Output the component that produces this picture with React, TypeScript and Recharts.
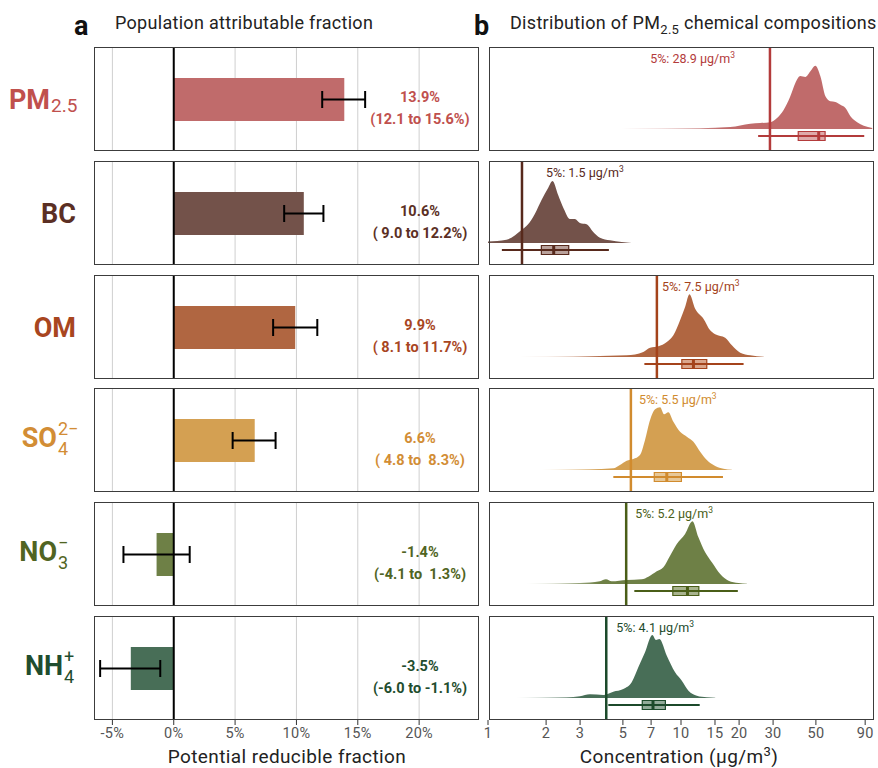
import React from 'react';
import {
  ComposedChart,
  BarChart,
  Bar,
  ErrorBar,
  XAxis,
  YAxis,
  ReferenceLine,
  ReferenceArea,
  Area,
  CartesianGrid,
} from 'recharts';

// ---------------- data ----------------
const componentKeys = ['PM2.5', 'BC', 'OM', 'SO4', 'NO3', 'NH4'];
const labelMain = ['PM', 'BC', 'OM', 'SO', 'NO', 'NH'];
const labelSub = ['2.5', '', '', '4', '3', '4'];
const labelSup = ['', '', '', '2−', '−', '+'];

const pafValue = [13.9, 10.6, 9.9, 6.6, -1.4, -3.5];
const pafLower = [12.1, 9.0, 8.1, 4.8, -4.1, -6.0];
const pafUpper = [15.6, 12.2, 11.7, 8.3, 1.3, -1.1];
const pafTicks = [-5, 0, 5, 10, 15, 20];

const concTicks = [1, 2, 3, 5, 7, 10, 15, 20, 30, 50, 90];
const p5Conc = [28.9, 1.5, 7.5, 5.5, 5.2, 4.1];
const whiskerLow = [25.1, 1.18, 6.46, 4.46, 5.73, 4.2];
const quartile1 = [40.5, 1.89, 10.1, 7.27, 9.07, 6.3];
const medianConc = [51.7, 2.19, 11.6, 8.44, 10.8, 7.16];
const quartile3 = [55.8, 2.62, 13.6, 10.05, 12.37, 8.3];
const whiskerHigh = [89, 4.23, 21.1, 16.5, 19.7, 12.5];

// density (relative) over concentration (µg/m3)
const pm25Conc = [4.94, 12.6, 18.0, 22.85, 25.75, 29.0, 31.44, 34.02, 36.85, 39.13, 41.54, 44.1, 46.82, 49.7, 52.76, 56.01, 59.45, 63.11, 67.0, 71.12, 75.5, 81.81, 88.51, 97.88];
const pm25Dens = [0.4, 0.8, 2, 5.3, 6, 6.7, 11, 19, 32.7, 46, 53, 52, 57.7, 63.3, 52.7, 32.7, 27.7, 27, 24.3, 21, 12.7, 6.7, 3.3, 1];
const bcConc = [1.0, 1.246, 1.491, 1.613, 1.748, 1.894, 2.049, 2.16, 2.309, 2.472, 2.657, 2.818, 2.992, 3.243, 3.51, 3.802, 4.284, 4.927, 5.553];
const bcDens = [1.5, 3.3, 13, 18.7, 29, 43, 55, 62, 48, 34, 24, 24, 20, 18.7, 11, 5.3, 2.7, 1, 0];
const omConc = [1.461, 2.763, 5.231, 6.378, 6.913, 7.632, 8.441, 9.13, 9.89, 10.5, 11.06, 11.84, 13.07, 14.16, 15.04, 16.94, 18.35, 20.27, 22.85, 26.79];
const omDens = [0.3, 0.5, 1.7, 5, 9.3, 10.7, 15, 21.7, 36.7, 50, 62.7, 48.3, 38.3, 26.7, 22.7, 19.3, 11.7, 4.3, 1.7, 0.3];
const so4Conc = [1.894, 3.373, 4.457, 4.826, 5.231, 5.661, 6.132, 6.511, 6.913, 7.338, 7.79, 8.172, 8.602, 9.13, 9.89, 10.72, 11.6, 12.57, 13.61, 15.04, 16.6, 18.35];
const so4Dens = [0.3, 0.7, 1.7, 5, 9.3, 11, 15, 30, 50, 60.7, 62.7, 55.7, 57.7, 48.3, 38.3, 33.3, 28.3, 18.3, 10, 4, 1.3, 0.3];
const no3Conc = [1.583, 2.994, 3.802, 4.085, 4.372, 5.231, 6.258, 6.772, 7.486, 8.103, 8.779, 9.51, 10.5, 11.46, 12.31, 13.34, 14.45, 15.96, 17.63, 19.86, 21.96];
const no3Dens = [0.3, 1, 2.7, 4.7, 2.7, 4, 4.7, 7.3, 12.7, 16.7, 28.3, 40, 50, 62.7, 46.7, 31.7, 21.7, 10, 3.3, 1, 0.2];
const nh4Conc = [1.404, 2.554, 2.994, 3.373, 3.955, 4.457, 5.023, 5.553, 6.009, 6.511, 7.103, 7.424, 7.725, 8.441, 9.32, 10.1, 10.93, 12.08, 13.61, 15.04];
const nh4Dens = [0.3, 0.7, 1.7, 3.7, 3, 6.3, 9, 15.7, 30.7, 45.7, 63, 58, 59, 42.3, 25.7, 17.3, 7.3, 2.3, 0.7, 0.2];

const densConc = [pm25Conc, bcConc, omConc, so4Conc, no3Conc, nh4Conc];
const densVal = [pm25Dens, bcDens, omDens, so4Dens, no3Dens, nh4Dens];

// ---------------- styles / layout ----------------
const barColors = ['#c06b6b', '#73524a', '#b06641', '#d4a052', '#6e8046', '#486e57'];
const lineColors = ['#b33b3b', '#57291c', '#a4431b', '#d18b2e', '#4a5e18', '#1c4a2b'];
const textColors = ['#c0504d', '#5b2f24', '#a8461f', '#d28d35', '#506422', '#1f4d2e'];
const boxFill = ['#dfa9a9', '#b9a19b', '#daa68c', '#e7c898', '#a8b38e', '#92ab9a'];
const fadeFrac = [0.4, 0, 0.35, 0.3, 0.33, 0.32];
const p5LabelDx = [-35, 24, 5, 8, 9, 10];
const labelSplitX = [50, 76, 76, 57, 57, 63];

const FONT = 'Roboto, "Noto Sans", "DejaVu Sans", sans-serif';
const ROW_TOPS = [47, 161, 275, 388, 502, 616];
const PANEL_H = 104;
const LEFT_X = 94;
const LEFT_W = 385;
const LEFT_DOMAIN: [number, number] = [-6.5, 24.88];
const RIGHT_X = 488;
const RIGHT_W = 386;
const RIGHT_PAD = 12;
const AXIS_H = 28;
const BOX_Y = -7;
const BOX_HALF = 4.5;
const BORDER = '1.5px solid #3c3c3c';
const TICK_STYLE = { fontSize: 14.5, fill: '#555', letterSpacing: 0.3 };

const fmt = (v: number) => v.toFixed(1).padStart(4, ' ');

function LeftPanel({ i }: { i: number }) {
  const bottom = i === 5;
  const data = [
    {
      name: componentKeys[i],
      value: pafValue[i],
      err: [pafValue[i] - pafLower[i], pafUpper[i] - pafValue[i]],
    },
  ];
  return (
    <BarChart
      width={LEFT_W}
      height={PANEL_H + (bottom ? AXIS_H : 0)}
      data={data}
      layout="vertical"
      margin={{ top: 0, right: 0, bottom: 0, left: 0 }}
    >
      <CartesianGrid horizontal={false} stroke="#cfcfcf" strokeWidth={1} />
      <XAxis
        type="number"
        domain={LEFT_DOMAIN}
        allowDataOverflow
        ticks={pafTicks}
        interval={0}
        hide={!bottom}
        height={AXIS_H}
        axisLine={false}
        tickLine={{ stroke: '#333' }}
        tickSize={5}
        tickMargin={3}
        tick={TICK_STYLE}
        tickFormatter={(v: number) => `${v}%`}
      />
      <YAxis type="category" dataKey="name" hide />
      <Bar dataKey="value" fill={barColors[i]} barSize={43} isAnimationActive={false}>
        <ErrorBar dataKey="err" direction="x" width={8.5} stroke="#000" strokeWidth={2} isAnimationActive={false} />
      </Bar>
      <ReferenceLine x={0} stroke="#000" strokeWidth={2} />
    </BarChart>
  );
}

function P5Label(props: any) {
  const { i } = props;
  const vb = props.viewBox || props;
  const x = vb.x + p5LabelDx[i];
  const y = (vb.y || 0) + 16;
  return (
    <text
      x={x}
      y={y}
      fill={lineColors[i]}
      fontSize={12.5}
      textAnchor={p5LabelDx[i] < 0 ? 'end' : 'start'}
      fontFamily={FONT}
    >
      {`5%: ${p5Conc[i]} μg/m`}
      <tspan dy={-5} fontSize={8.5}>3</tspan>
    </text>
  );
}

function RightPanel({ i }: { i: number }) {
  const bottom = i === 5;
  const data = densConc[i].map((c, k) => ({ conc: c, density: densVal[i][k] }));
  const id = `fade-${i}`;
  const c = barColors[i];
  const f = fadeFrac[i];
  return (
    <ComposedChart
      width={RIGHT_W + RIGHT_PAD}
      height={PANEL_H + (bottom ? AXIS_H : 0)}
      data={data}
      margin={{ top: 0, right: 0, bottom: 0, left: RIGHT_PAD }}
    >
      <defs>
        <linearGradient id={id} x1="0" y1="0" x2="1" y2="0">
          <stop offset="0" stopColor={c} stopOpacity={f > 0 ? 0 : 1} />
          <stop offset={f} stopColor={c} stopOpacity={1} />
          <stop offset="1" stopColor={c} stopOpacity={1} />
        </linearGradient>
      </defs>
      <XAxis
        type="number"
        dataKey="conc"
        scale="log"
        domain={[1, 100]}
        allowDataOverflow
        ticks={concTicks}
        interval={0}
        hide={!bottom}
        height={AXIS_H}
        axisLine={false}
        tickLine={{ stroke: '#333' }}
        tickSize={5}
        tickMargin={3}
        tick={TICK_STYLE}
      />
      <YAxis type="number" domain={[-22, 82]} allowDataOverflow hide />
      <Area
        dataKey="density"
        type="monotone"
        fill={`url(#${id})`}
        fillOpacity={1}
        stroke="none"
        baseValue={0}
        isAnimationActive={false}
      />
      <ReferenceLine
        segment={[
          { x: whiskerLow[i], y: BOX_Y },
          { x: whiskerHigh[i], y: BOX_Y },
        ]}
        stroke={lineColors[i]}
        strokeWidth={2}
      />
      <ReferenceArea
        x1={quartile1[i]}
        x2={quartile3[i]}
        y1={BOX_Y - BOX_HALF}
        y2={BOX_Y + BOX_HALF}
        fill={boxFill[i]}
        fillOpacity={1}
        stroke={lineColors[i]}
        strokeWidth={1.2}
      />
      <ReferenceLine
        segment={[
          { x: medianConc[i], y: BOX_Y - BOX_HALF },
          { x: medianConc[i], y: BOX_Y + BOX_HALF },
        ]}
        stroke={lineColors[i]}
        strokeWidth={3}
      />
      <ReferenceLine
        x={p5Conc[i]}
        stroke={lineColors[i]}
        strokeWidth={2.5}
        label={(p: any) => <P5Label {...p} i={i} />}
      />
    </ComposedChart>
  );
}

function RowLabel({ i }: { i: number }) {
  const cy = ROW_TOPS[i] + PANEL_H / 2;
  const sx = labelSplitX[i];
  const col = textColors[i];
  const isPM = i === 0;
  const stacked = !isPM && (labelSup[i] || labelSub[i]);
  return (
    <g fill={col} fontFamily={FONT}>
      <text x={sx} y={cy + (stacked ? 7 : 9.5)} textAnchor="end" fontSize={27} fontWeight={700}>
        {labelMain[i]}
      </text>
      {isPM ? (
        <text x={sx + 1} y={cy + 13} fontSize={19}>
          {labelSub[i]}
        </text>
      ) : null}
      {!isPM && labelSup[i] ? (
        <text x={sx + 1} y={cy - 5.5} fontSize={18}>
          {labelSup[i]}
        </text>
      ) : null}
      {!isPM && labelSub[i] ? (
        <text x={sx + 1} y={cy + 15} fontSize={18}>
          {labelSub[i]}
        </text>
      ) : null}
    </g>
  );
}

function PafText({ i }: { i: number }) {
  const cy = ROW_TOPS[i] + PANEL_H / 2;
  return (
    <g fill={textColors[i]} fontFamily={FONT} fontWeight={700} fontSize={14.5} textAnchor="middle">
      <text x={420} y={cy + 3}>{`${pafValue[i].toFixed(1)}%`}</text>
      <text x={420} y={cy + 24.5} style={{ whiteSpace: 'pre' }}>
        {`(${fmt(pafLower[i])} to ${fmt(pafUpper[i])}%)`}
      </text>
    </g>
  );
}

export default function App() {
  const rows = [0, 1, 2, 3, 4, 5];
  return (
    <div
      style={{
        position: 'absolute',
        left: 0,
        top: 0,
        width: 878,
        height: 768,
        background: '#fff',
        fontFamily: FONT,
        overflow: 'hidden',
      }}
    >
      {rows.map((i) => (
        <React.Fragment key={i}>
          <div style={{ position: 'absolute', left: LEFT_X, top: ROW_TOPS[i] }}>
            <LeftPanel i={i} />
          </div>
          <div style={{ position: 'absolute', left: RIGHT_X - RIGHT_PAD, top: ROW_TOPS[i] }}>
            <RightPanel i={i} />
          </div>
          <div
            style={{
              position: 'absolute',
              left: LEFT_X,
              top: ROW_TOPS[i],
              width: LEFT_W,
              height: PANEL_H,
              border: BORDER,
              boxSizing: 'border-box',
              pointerEvents: 'none',
            }}
          />
          <div
            style={{
              position: 'absolute',
              left: RIGHT_X + 1,
              top: ROW_TOPS[i],
              width: RIGHT_W - 1,
              height: PANEL_H,
              border: BORDER,
              boxSizing: 'border-box',
              pointerEvents: 'none',
            }}
          />
        </React.Fragment>
      ))}
      <svg
        width={878}
        height={768}
        style={{ position: 'absolute', left: 0, top: 0, pointerEvents: 'none' }}
      >
        <text x={74} y={35} fontSize={27} fontWeight={700} fill="#111" fontFamily={FONT}>
          a
        </text>
        <text x={115} y={28.5} fontSize={18} letterSpacing={0.3} fill="#222" fontFamily={FONT}>
          Population attributable fraction
        </text>
        <text x={474} y={35} fontSize={27} fontWeight={700} fill="#111" fontFamily={FONT}>
          b
        </text>
        <text x={510} y={28.5} fontSize={18} letterSpacing={0.3} fill="#222" fontFamily={FONT}>
          Distribution of PM
          <tspan fontSize={13} dy={5}>2.5</tspan>
          <tspan dy={-5}> chemical compositions</tspan>
        </text>
        {rows.map((i) => (
          <RowLabel key={`l${i}`} i={i} />
        ))}
        {rows.map((i) => (
          <PafText key={`p${i}`} i={i} />
        ))}
        <text x={287} y={763} fontSize={19} letterSpacing={0.4} fill="#222" textAnchor="middle" fontFamily={FONT}>
          Potential reducible fraction
        </text>
        <text x={679} y={763} fontSize={19} letterSpacing={0.4} fill="#222" textAnchor="middle" fontFamily={FONT}>
          Concentration (μg/m
          <tspan fontSize={13} dy={-7}>3</tspan>
          <tspan dy={7}>)</tspan>
        </text>
      </svg>
    </div>
  );
}
